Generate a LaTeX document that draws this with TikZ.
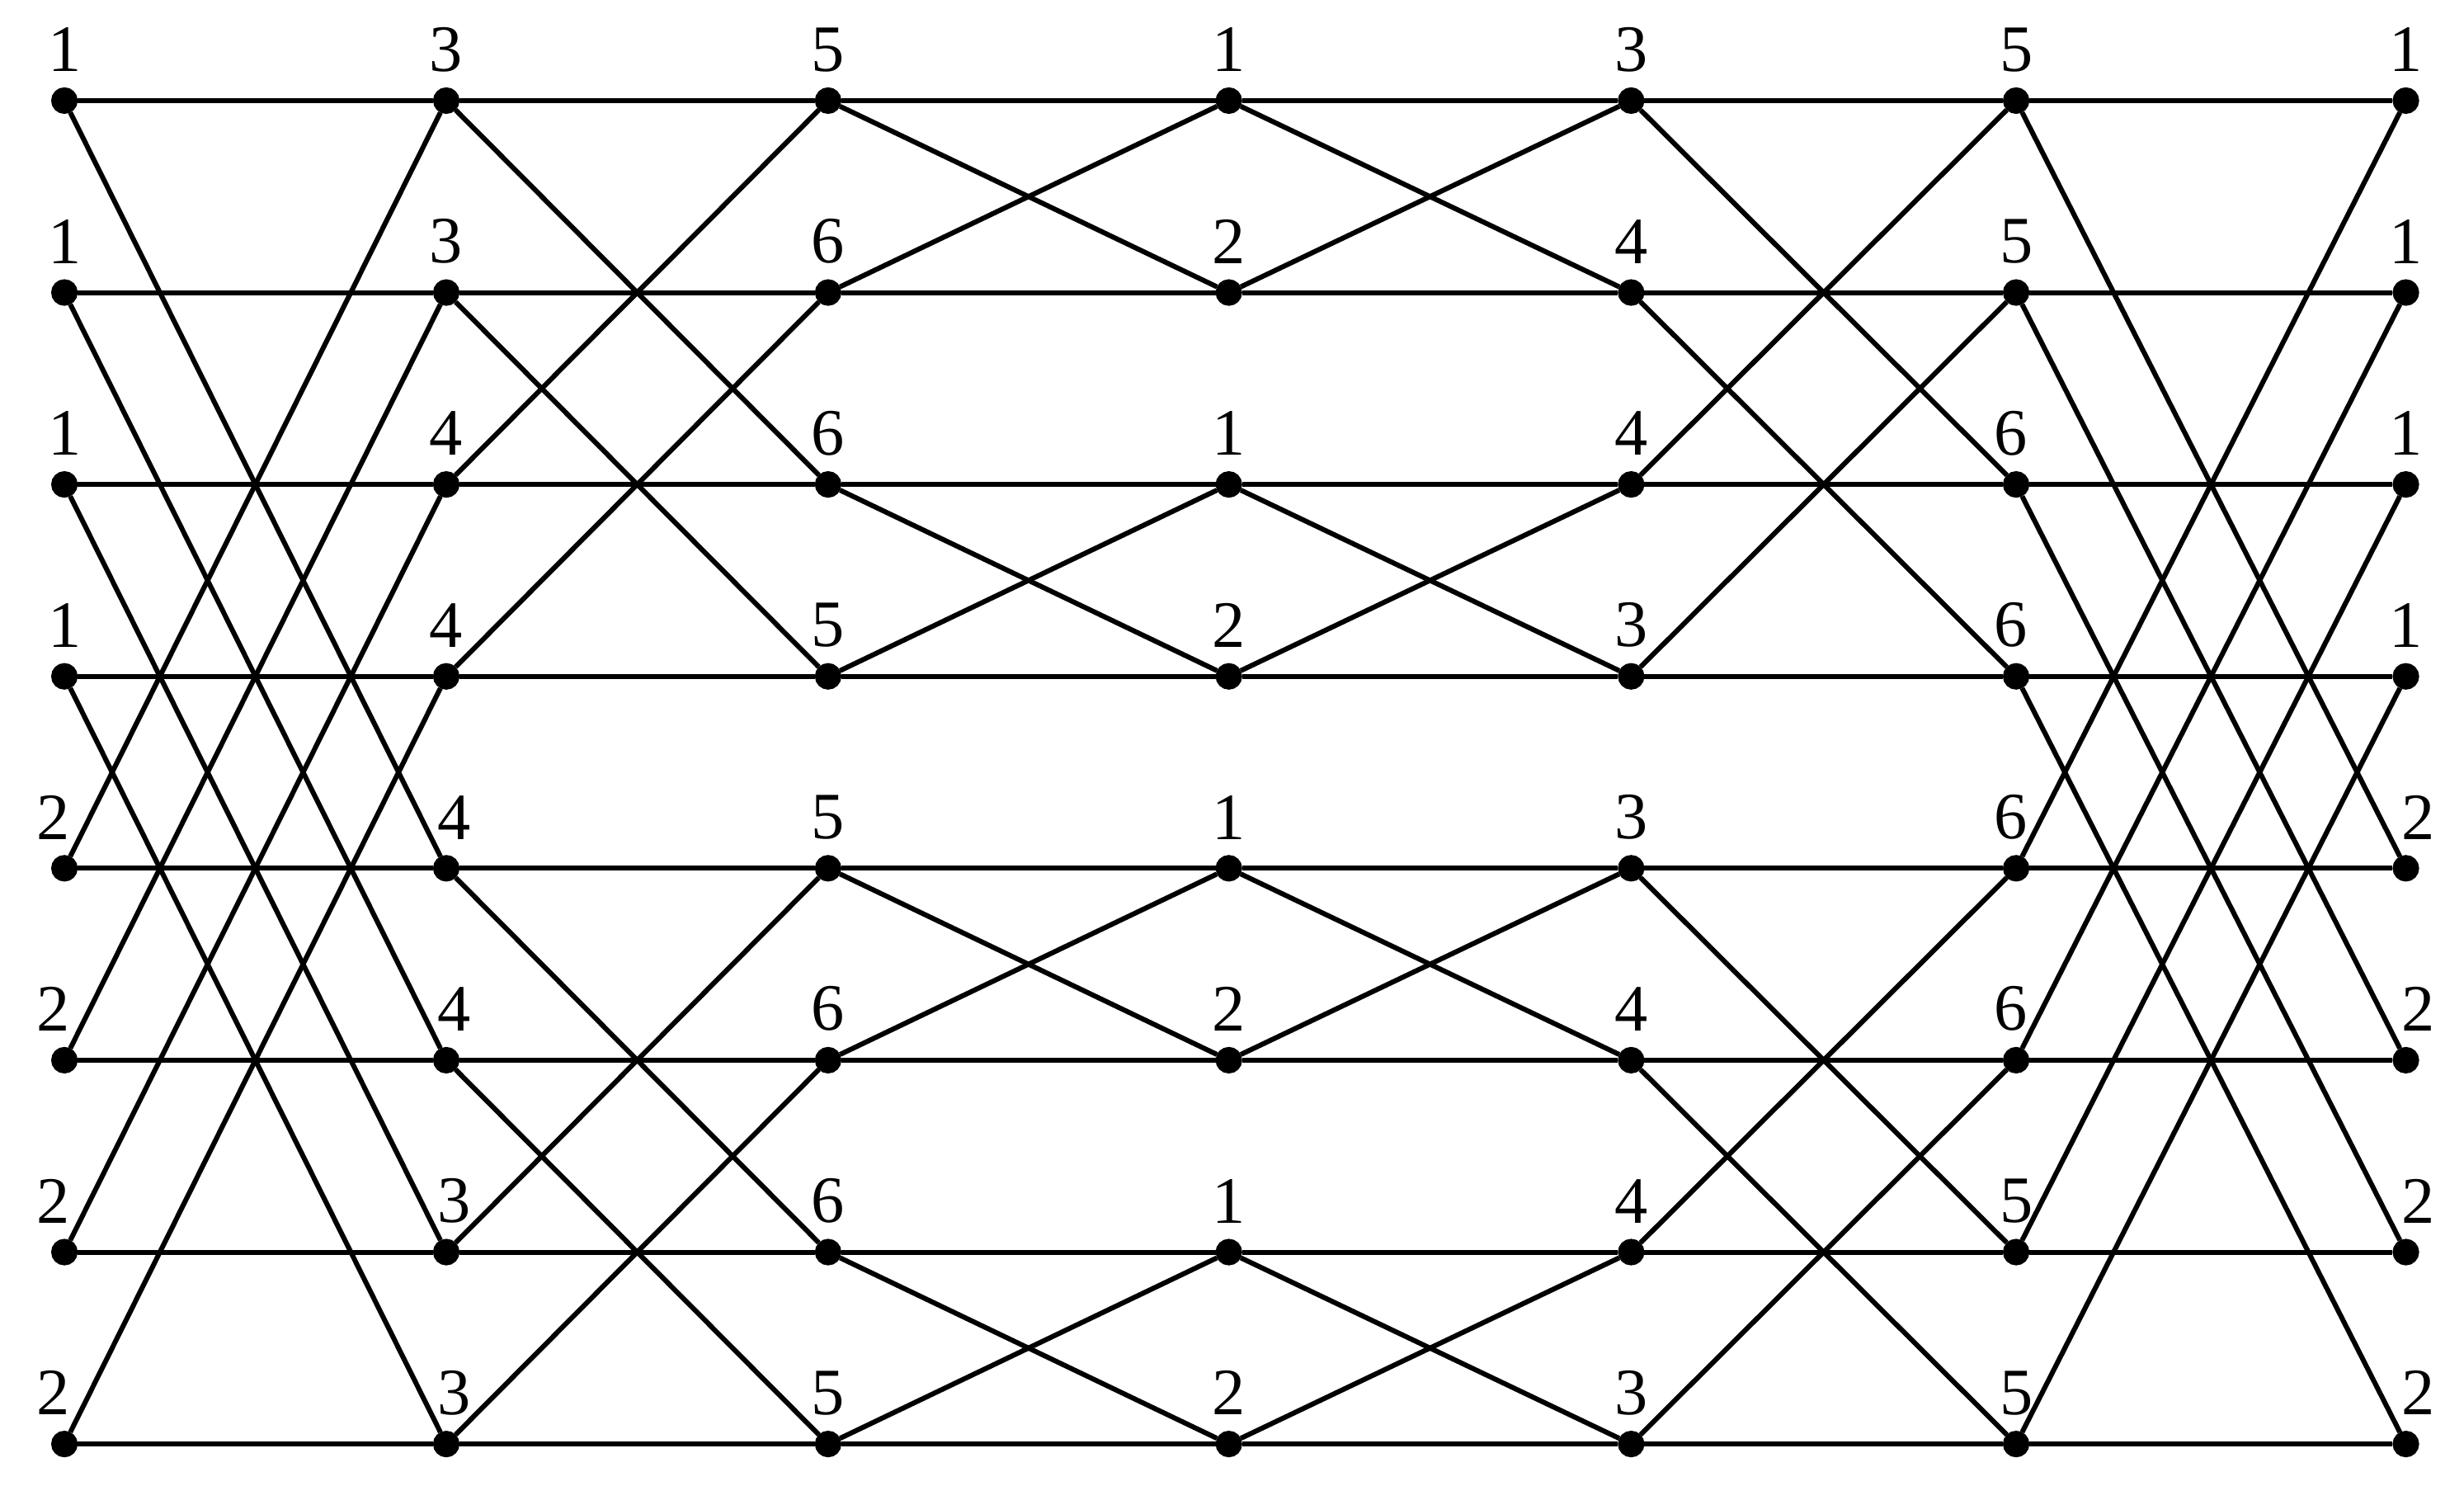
\documentclass[tikz,border=0pt]{standalone}
\usepackage{fontspec}
\setmainfont{Liberation Serif}
\usetikzlibrary{positioning}

\begin{document}
\begin{tikzpicture}[x=0.1mm, y=-0.1mm, line width=0.9pt]
\path [use as bounding box] (0,0) rectangle (1568,945);
\tikzstyle{bullet} = [circle, fill, draw, inner sep=0pt, minimum size=3.9pt]
\tikzstyle{digit} = [inner sep=0pt, font=\fontsize{12}{13}\selectfont]
% the seven columns of dots, with their numbers
\foreach \labs [count=\c from 0] in {{1,1,1,1,2,2,2,2},{3,3,4,4,4,4,3,3},{5,6,6,5,5,6,6,5},{1,2,1,2,1,2,1,2},{3,4,4,3,3,4,4,3},{5,5,6,6,6,6,5,5},{1,1,1,1,2,2,2,2}}
{
	\pgfmathsetmacro\x{{41,284,527,782,1038,1283,1531}[\c]}
	\foreach \l [count=\r from 0] in \labs {
		\pgfmathsetmacro\y{64+122.1*\r}
		\node[bullet] (n-\c-\r) at (\x,\y) {};
		\pgfmathsetmacro\dx{(\c==0 && \r>3) ? -2 : ((\c==6 && \r>3) ? 2.3 : ((\c==1 && \r>3) ? 1.5 : ((\c==5 && \r>1 && \r<6) ? -1 : 0)))}
		\node[digit, above=2.4pt of n-\c-\r, xshift=\dx pt] (t-\c-\r) {\l};
	}
}
% straight rows
\foreach \r in {0,...,7}
	\draw (n-0-\r) -- (n-1-\r) -- (n-2-\r) -- (n-3-\r) -- (n-4-\r) -- (n-5-\r) -- (n-6-\r);
% crossings between neighbouring columns
\foreach \c/\s in {0/4,1/2,2/1,3/1,4/2,5/4} {
	\pgfmathtruncatemacro\d{\c+1}
	\foreach \r in {0,...,7} {
		\pgfmathtruncatemacro\p{mod(floor(\r/\s),2)==0 ? \r+\s : \r-\s}
		\draw (n-\c-\r) -- (n-\d-\p);
	}
}
\end{tikzpicture}
\end{document}
